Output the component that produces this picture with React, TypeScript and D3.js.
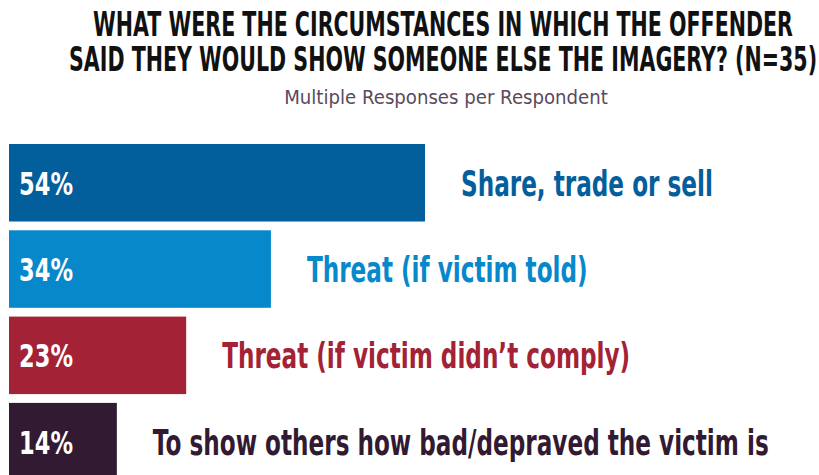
import { useEffect, useRef } from "react";
import * as d3 from "d3";

// Datos
const categorias = [
  "Share, trade or sell",
  "Threat (if victim told)",
  "Threat (if victim didn\u2019t comply)",
  "To show others how bad/depraved the victim is",
];
const porcentajes = [54, 34, 23, 14];
const colores = ["#035e9c", "#0788cb", "#a32235", "#321a32"];

const tituloLineas = [
  "WHAT WERE THE CIRCUMSTANCES IN WHICH THE OFFENDER",
  "SAID THEY WOULD SHOW SOMEONE ELSE THE IMAGERY? (N=35)",
];
const subtitulo = "Multiple Responses per Respondent";

const W = 819;
const H = 475;
const FUENTE = "'DejaVu Sans', sans-serif";

// Condensa horizontalmente un grupo de textos (la fuente DIN Condensed no existe aquí)
const condensar = (sel: any, ancho: number) => {
  const nodos = sel.nodes() as SVGTextElement[];
  const natural = nodos[0].getComputedTextLength();
  const f = ancho / natural;
  sel.each(function (this: SVGTextElement) {
    const t = d3.select(this);
    const x = +t.attr("x");
    const y = +t.attr("y");
    t.attr("x", 0).attr("y", 0).attr("transform", `translate(${x},${y}) scale(${f},1)`);
  });
};

const App = () => {
  const ref = useRef<SVGSVGElement | null>(null);

  useEffect(() => {
    if (!ref.current) return;
    const svg = d3.select(ref.current);
    svg.selectAll("*").remove();

    const x = d3.scaleLinear().domain([0, 54]).range([9, 425]);
    const y = d3
      .scaleBand()
      .domain(categorias)
      .range([144, 480.4])
      .paddingInner(0.102)
      .paddingOuter(0);

    const datos = categorias.map((c, i) => ({ cat: c, val: porcentajes[i], color: colores[i] }));

    // Título
    const titulo = svg
      .selectAll(".titulo")
      .data(tituloLineas)
      .enter()
      .append("text")
      .attr("class", "titulo")
      .attr("x", 443)
      .attr("y", (d, i) => 36 + i * 35)
      .attr("text-anchor", "middle")
      .style("font-family", FUENTE)
      .style("font-weight", "700")
      .style("font-size", "33px")
      .style("fill", "#111")
      .text((d) => d);
    condensar(titulo, 700);

    const sub = svg
      .append("text")
      .attr("x", 446)
      .attr("y", 104)
      .attr("text-anchor", "middle")
      .style("font-family", FUENTE)
      .style("font-size", "20px")
      .style("fill", "#5a4a5b")
      .text(subtitulo);
    condensar(sub, 324);

    // Barras
    svg
      .selectAll(".barra")
      .data(datos)
      .enter()
      .append("rect")
      .attr("class", "barra")
      .attr("x", x(0))
      .attr("y", (d) => y(d.cat)!)
      .attr("width", (d) => x(d.val) - x(0))
      .attr("height", y.bandwidth())
      .attr("fill", (d) => d.color);

    // Valores dentro de las barras
    const valores = svg
      .selectAll(".valor")
      .data(datos)
      .enter()
      .append("text")
      .attr("class", "valor")
      .attr("x", x(0) + 10)
      .attr("y", (d) => y(d.cat)! + y.bandwidth() / 2 + 12)
      .style("font-family", FUENTE)
      .style("font-weight", "700")
      .style("font-size", "32px")
      .style("fill", "#fff")
      .text((d) => `${d.val}%`);
    condensar(valores, 54);

    // Etiquetas a la derecha
    const etiquetas = svg
      .selectAll(".etiqueta")
      .data(datos)
      .enter()
      .append("text")
      .attr("class", "etiqueta")
      .attr("x", (d) => x(d.val) + 36)
      .attr("y", (d) => y(d.cat)! + y.bandwidth() / 2 + 13)
      .style("font-family", FUENTE)
      .style("font-weight", "700")
      .style("font-size", "35px")
      .style("fill", (d) => d.color)
      .text((d) => d.cat);
    condensar(etiquetas, 252);
  }, []);

  return (
    <svg
      ref={ref}
      width={W}
      height={H}
      style={{ position: "absolute", left: 0, top: 0, background: "#fff" }}
    />
  );
};

export default App;
